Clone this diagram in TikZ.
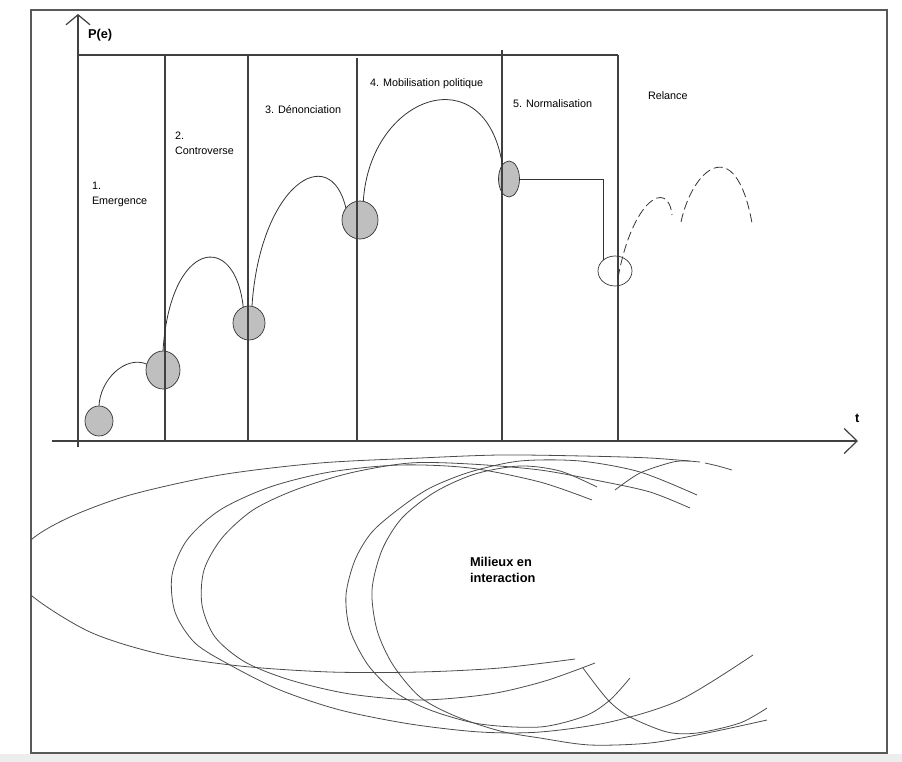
\documentclass[tikz,border=0pt]{standalone}
\usepackage{fontspec}
\setmainfont{Liberation Sans}
\usepackage{tikz}
\usetikzlibrary{shapes.geometric, arrows.meta}

\begin{document}
\begin{tikzpicture}[x=1pt, y=-1pt,
        every node/.style={inner sep=0pt, outer sep=0pt},
        etape/.style={anchor=west, align=left, font=\fontsize{10.8}{15}\selectfont},
        titre/.style={anchor=west, align=left, font=\fontsize{12.8}{15.6}\selectfont\bfseries},
        bulle/.style={ellipse, draw=black!80, fill=black!25, line width=0.7pt},
        trait/.style={draw=black!75, line width=1.2pt},
        saut/.style={draw=black!80, line width=0.8pt},
        relance/.style={draw=black!80, line width=0.8pt, dash pattern=on 9pt off 4pt},
        milieu/.style={draw=black!70, line width=0.8pt}]
        \useasboundingbox (0,0) rectangle (902,762);
        \fill[black!7] (0,754) rectangle (902,762);
        \draw[draw=black!65, line width=1.3pt] (31,10) rectangle (887,753);

        % Bulles
        \node[bulle, minimum width=28pt, minimum height=30pt] (bulle1) at (99,421) {};
        \node[bulle, minimum width=34pt, minimum height=38pt] (bulle2) at (163,370) {};
        \node[bulle, minimum width=32pt, minimum height=34pt] (bulle3) at (249,323) {};
        \node[bulle, minimum width=36pt, minimum height=38pt] (bulle4) at (360,220) {};
        \node[bulle, minimum width=21pt, minimum height=36pt] (bulle5) at (509,179) {};
        \node[bulle, fill=none, minimum width=34pt, minimum height=30pt] (bulle6) at (615,271) {};

        % Axes
        \coordinate (ybas) at (78,447);
        \coordinate (yhaut) at (78,14);
        \coordinate (tdebut) at (52,441);
        \coordinate (tfin) at (858,441);
        \draw[trait, -{Straight Barb[length=10pt, width=24pt]}] (ybas) -- (yhaut);
        \draw[trait, -{Straight Barb[length=13pt, width=25pt]}] (tdebut) -- (tfin);

        % Etapes
        \draw[trait] (78,55) -- (618,55);
        \draw[trait] (165,55) -- (165,441);
        \draw[trait] (248,55) -- (248,441);
        \draw[trait] (357,58) -- (357,441);
        \draw[trait] (502,50) -- (502,441);
        \draw[trait] (618,55) -- (618,441);

        % Textes
        \node[titre] (pe) at (88,35) {P(e)};
        \node[titre] (temps) at (855,418) {t};
        \node[etape] (emergence) at (92,194) {1.\\Emergence};
        \node[etape] (controverse) at (175,143) {2.\\Controverse};
        \node[etape] (denonciation) at (265,110) {3. Dénonciation};
        \node[etape] (mobilisation) at (370,84) {4. Mobilisation politique};
        \node[etape] (normalisation) at (513,104) {5. Normalisation};
        \node[etape] (relancetxt) at (648,96) {Relance};
        \node[titre] (milieux) at (470,570) {Milieux en\\interaction};

        % Sauts
        \draw[saut] (bulle1.north) .. controls (100,380) and (125,355) .. (bulle2.160);
        \draw[saut] (bulle2.north) .. controls (170,240) and (235,230) .. (bulle3.110);
        \draw[saut] (bulle3.80) .. controls (260,185) and (330,140) .. (bulle4.140);
        \draw[saut] (bulle4.80) .. controls (370,95) and (485,55) .. (bulle5.115);
        \draw[saut] (bulle5.east) -| (bulle6.north west);

        % Relance
        \coordinate (rel1) at (672,215);
        \coordinate (rel2) at (681,222);
        \coordinate (rel3) at (752,223);
        \draw[relance] ([xshift=3pt, yshift=-7pt]bulle6.center) .. controls (632,200) and (668,178) .. (rel1);
        \draw[relance] (rel2) .. controls (692,170) and (735,130) .. (rel3);

        % Milieux
        \begin{scope}
            \clip (31,10) rectangle (887,753);
            \draw[milieu] plot[smooth] coordinates {(575,659) (500,668) (420,672) (330,672) (240,666) (160,654) (90,632) (31,595) (18,567) (31,540) (70,517) (130,495) (220,475) (320,463) (420,458) (500,455) (583,456) (650,458) (700,462)};
        \end{scope}
        \draw[milieu] plot[smooth] coordinates {(705,463) (718,466) (732,470)};
        \draw[milieu] plot[smooth] coordinates {(592,500) (540,482) (470,468) (400,465) (330,472) (270,487) (220,510) (187,540) (172,575) (175,612) (195,643) (230,665) (280,690) (340,710) (410,724) (480,732) (540,732) (610,722) (680,700) (753,655)};
        \draw[milieu] plot[smooth] coordinates {(690,508) (650,492) (600,481) (540,470) (470,464) (410,463) (350,473) (295,490) (253,510) (222,538) (204,570) (202,605) (215,637) (245,662) (290,680) (350,694) (420,700) (490,694) (545,681) (595,663)};
        \draw[milieu] plot[smooth] coordinates {(697,495) (640,472) (580,461) (520,461) (470,472) (430,488) (400,508) (372,532) (355,560) (346,595) (350,630) (368,665) (395,692) (430,710) (480,724) (540,727) (585,716) (610,700) (630,678)};
        \draw[milieu] plot[smooth] coordinates {(597,487) (560,471) (520,466) (475,474) (435,492) (402,518) (382,550) (372,590) (377,630) (393,665) (420,697) (455,716) (500,731) (540,738) (590,745) (650,743) (707,733) (767,720)};
        \draw[milieu] plot[smooth] coordinates {(583,668) (608,700) (630,717) (667,732) (697,733) (740,723) (767,708)};
        \draw[milieu] plot[smooth] coordinates {(615,490) (640,473) (673,462) (690,461)};
    \end{tikzpicture}
\end{document}
